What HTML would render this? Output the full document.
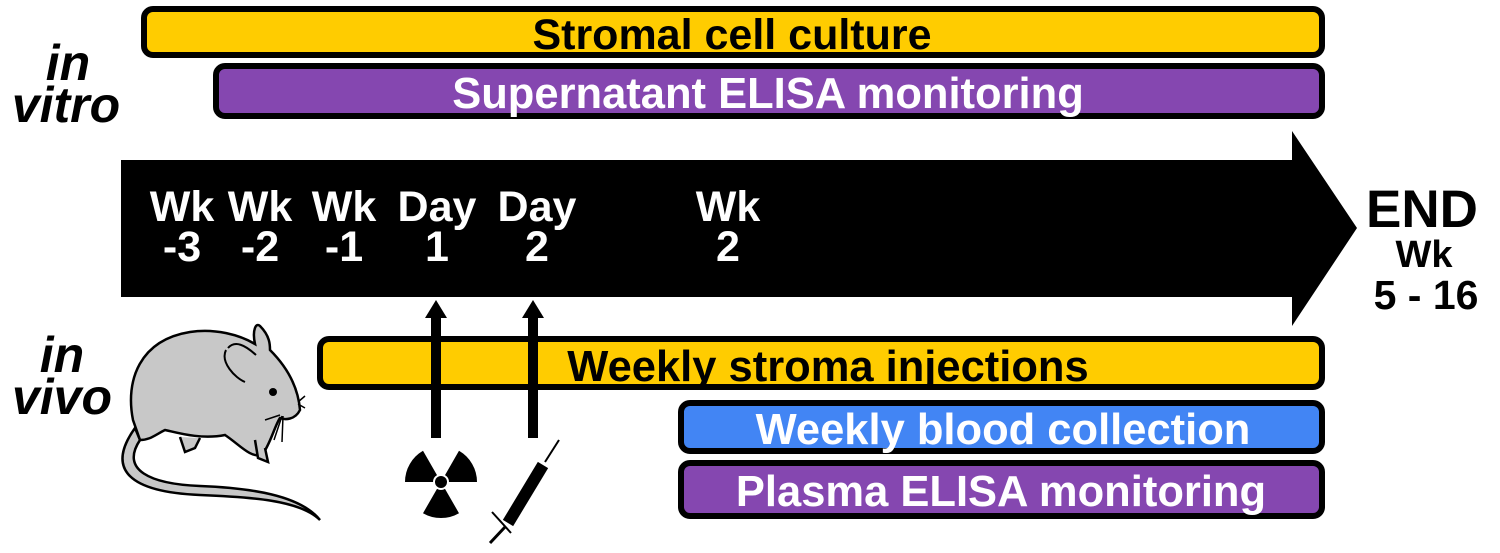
<!DOCTYPE html>
<html><head><meta charset="utf-8"><style>
body{margin:0;background:#fff}
svg text{font-family:"Liberation Sans",sans-serif;font-weight:bold}
</style></head><body>
<svg width="1500" height="548" viewBox="0 0 1500 548" xmlns="http://www.w3.org/2000/svg">
<rect x="144" y="9" width="1178" height="46" rx="9" fill="#FFCC00" stroke="#000" stroke-width="6"/>
<text x="732" y="49" font-size="43" text-anchor="middle">Stromal cell culture</text>
<rect x="216" y="66" width="1106" height="50" rx="9" fill="#8547B0" stroke="#000" stroke-width="6"/>
<text x="768" y="108" font-size="43.5" text-anchor="middle" fill="#fff">Supernatant ELISA monitoring</text>
<text x="68" y="80" font-size="50" font-style="italic" text-anchor="middle">in</text>
<text x="66" y="122" font-size="50" font-style="italic" text-anchor="middle">vitro</text>
<polygon points="121,160 1292,160 1292,131 1357,228 1292,326 1292,297 121,297" fill="#000"/>
<g fill="#fff" font-size="43" text-anchor="middle">
<text x="182" y="221">Wk</text><text x="182" y="261">-3</text>
<text x="260" y="221">Wk</text><text x="260" y="261">-2</text>
<text x="344" y="221">Wk</text><text x="344" y="261">-1</text>
<text x="437" y="221">Day</text><text x="437" y="261">1</text>
<text x="537" y="221">Day</text><text x="537" y="261">2</text>
<text x="728" y="221">Wk</text><text x="728" y="261">2</text>
</g>
<text x="1422" y="227" font-size="53" text-anchor="middle">END</text>
<text x="1424" y="267" font-size="38" text-anchor="middle">Wk</text>
<text x="1426" y="309" font-size="41" text-anchor="middle">5 - 16</text>
<rect x="320" y="339" width="1002" height="48" rx="9" fill="#FFCC00" stroke="#000" stroke-width="6"/>
<text x="828" y="381" font-size="43.5" text-anchor="middle">Weekly stroma injections</text>
<rect x="681" y="403" width="641" height="48" rx="9" fill="#4285F4" stroke="#000" stroke-width="6"/>
<text x="1003" y="444" font-size="43.5" text-anchor="middle" fill="#fff">Weekly blood collection</text>
<rect x="681" y="463" width="641" height="53" rx="9" fill="#8547B0" stroke="#000" stroke-width="6"/>
<text x="1001" y="506" font-size="43.5" text-anchor="middle" fill="#fff">Plasma ELISA monitoring</text>
<text x="62" y="372" font-size="50" font-style="italic" text-anchor="middle">in</text>
<text x="62" y="414" font-size="50" font-style="italic" text-anchor="middle">vivo</text>
<!-- arrows -->
<rect x="431" y="315" width="10" height="123" fill="#000"/>
<polygon points="425,318 447,318 436,300" fill="#000"/>
<rect x="528" y="315" width="10" height="123" fill="#000"/>
<polygon points="522,318 544,318 533,300" fill="#000"/>
<!-- radiation -->
<g fill="#000">
<circle cx="441" cy="482" r="6"/>
<path d="M433,482 L405,482 A36,36 0 0 1 423,450.8 L437,475.1 A8,8 0 0 0 433,482 Z"/>
<path d="M445,475.1 L459,450.8 A36,36 0 0 1 477,482 L449,482 A8,8 0 0 0 445,475.1 Z"/>
<path d="M445,488.9 L459,513.2 A36,36 0 0 1 423,513.2 L437,488.9 A8,8 0 0 0 445,488.9 Z"/>
</g>
<!-- syringe -->
<g stroke="#000" fill="none">
<line x1="559" y1="440" x2="545" y2="462" stroke-width="2"/>
<line x1="543" y1="465" x2="508" y2="523" stroke-width="12"/>
<line x1="492" y1="512" x2="511" y2="533" stroke-width="2"/>
<line x1="505" y1="527" x2="490" y2="543" stroke-width="3"/>
</g>
<!-- mouse -->
<g stroke="#000" stroke-width="2.5" fill="#C8C8C8">
<path d="M135,428 C105,470 130,492 200,495 C250,497 300,500 320,520 C300,495 250,488 200,486 C150,484 120,470 140,440 Z"/>
<path d="M133,420 C125,380 140,340 190,332 C215,328 240,335 255,344 C252,330 256,322 260,326 C270,336 270,345 270,350 C285,365 298,385 300,410 C295,420 285,420 280,418 C275,425 270,445 262,455 C250,458 240,445 225,435 C200,440 175,432 165,430 C155,435 150,440 140,440 Z"/>
<path d="M180,437 L185,452 L195,448 L200,438" />
<path d="M255,440 L258,458 L268,462 L265,448"/>
</g>
<path d="M228,348 C235,340 245,345 256,355 M226,350 C220,362 235,378 245,382" stroke="#000" stroke-width="2" fill="none"/>
<circle cx="273" cy="392" r="4" fill="#000"/>
<path d="M280,415 L265,420 M282,416 L274,440 M283,416 L282,442 M298,402 L305,396 M298,404 L305,408" stroke="#000" stroke-width="1.5"/>
</svg>
</body></html>
